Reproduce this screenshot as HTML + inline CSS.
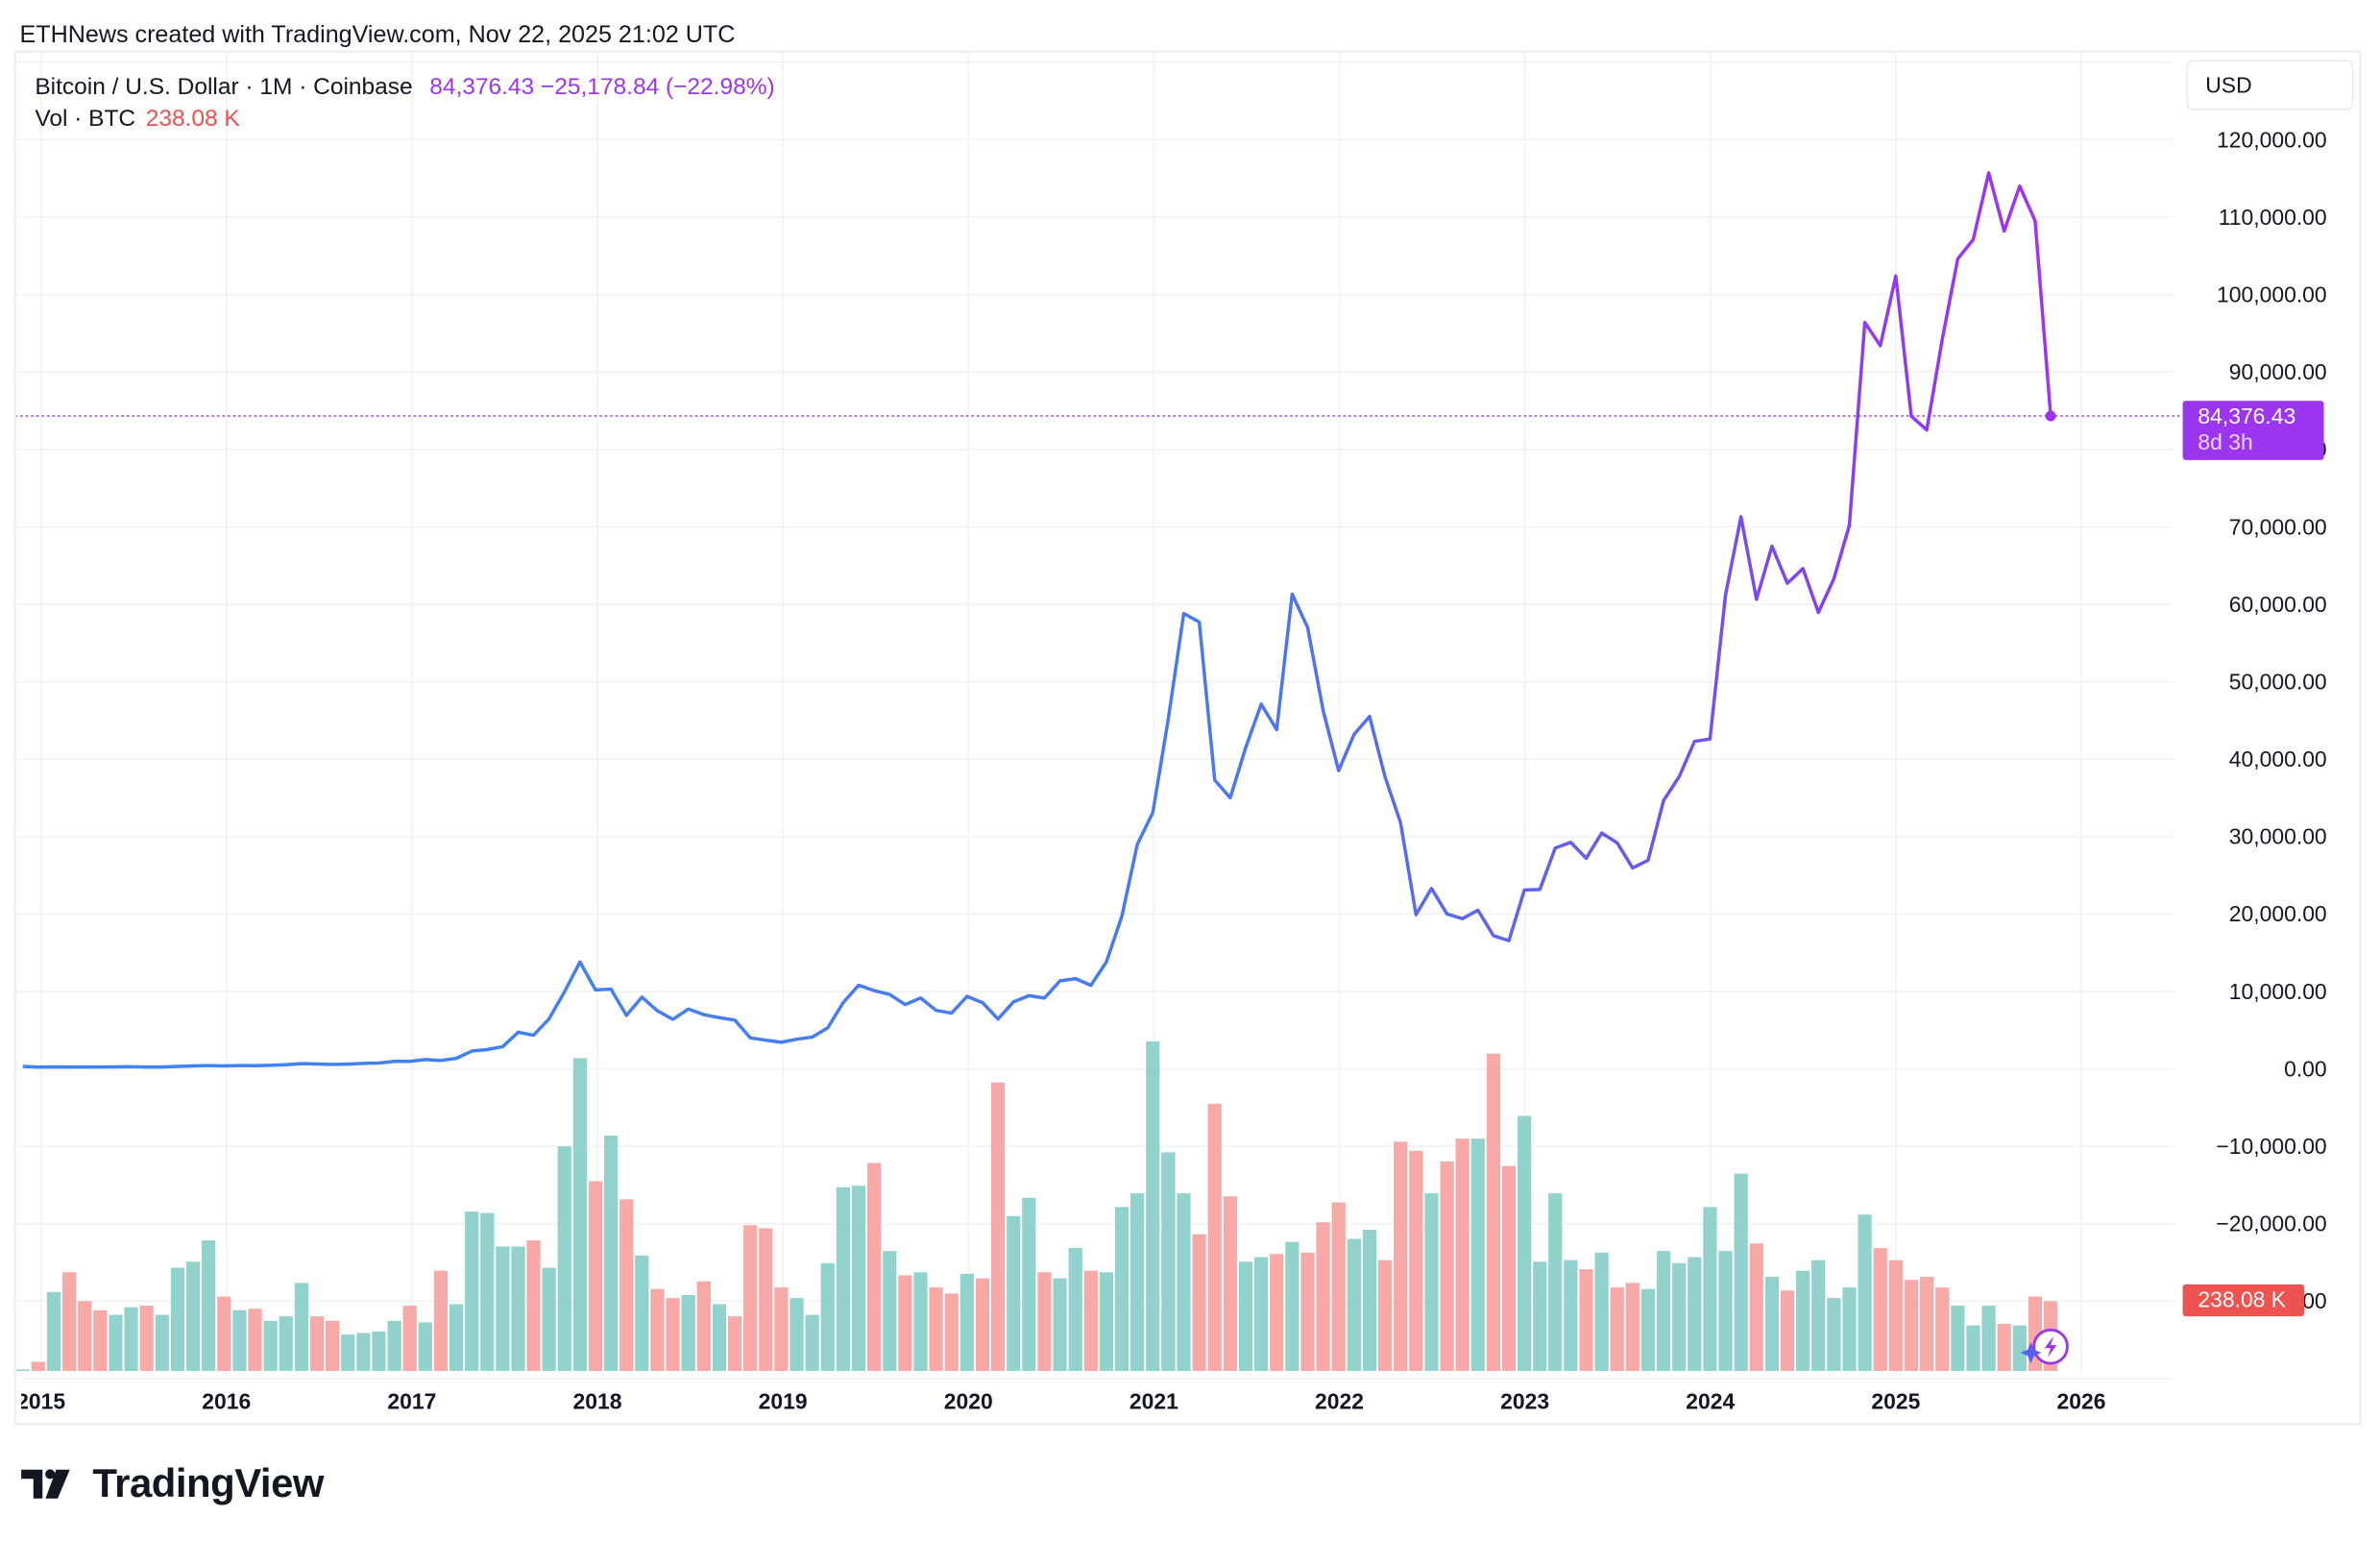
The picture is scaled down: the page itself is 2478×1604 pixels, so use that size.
<!DOCTYPE html>
<html><head><meta charset="utf-8">
<style>
html,body{margin:0;padding:0;background:#fff;}
svg{display:block;}
text{font-family:"Liberation Sans",sans-serif;}
</style></head>
<body>
<svg id="s" width="2478" height="1604" viewBox="0 0 1568 1015" preserveAspectRatio="none" xmlns="http://www.w3.org/2000/svg">
<defs>
<linearGradient id="lg" gradientUnits="userSpaceOnUse" x1="15" y1="0" x2="1351" y2="0">
<stop offset="0" stop-color="#3d85f2"/>
<stop offset="0.6" stop-color="#4a78ef"/>
<stop offset="0.8" stop-color="#6a58ee"/>
<stop offset="0.92" stop-color="#8f3af0"/>
<stop offset="1" stop-color="#a133f2"/>
</linearGradient>
<clipPath id="cp"><rect x="10" y="34" width="1545" height="904"/></clipPath>
</defs>
<rect x="0" y="0" width="1568" height="1015" fill="#fff"/>
<text x="13" y="28" font-size="15.9" fill="#131722">ETHNews created with TradingView.com, Nov 22, 2025 21:02 UTC</text>
<rect x="10" y="34" width="1545" height="904" fill="none" stroke="#eeeff2" stroke-width="1.5"/>
<g id="grid"></g>
<g id="bars" clip-path="url(#cp)"></g>
<line x1="10" y1="274" x2="1438" y2="274" stroke="#9c35f0" stroke-width="1" stroke-dasharray="1.5,2"/>
<polyline id="pl" fill="none" stroke="url(#lg)" stroke-width="2.2" stroke-linejoin="round"/>
<circle cx="1351" cy="274" r="3.5" fill="#9c35f0"/>
<g id="axis"></g>
<rect x="1441" y="40" width="109" height="32" rx="4" fill="#fff" stroke="#e8e9ec"/>
<text x="1453" y="61" font-size="14.5" fill="#131722">USD</text>
<text x="23" y="62" font-size="15.5" fill="#131722">Bitcoin / U.S. Dollar · 1M · Coinbase</text>
<text x="283" y="62" font-size="15.5" fill="#9c35f0">84,376.43  −25,178.84 (−22.98%)</text>
<text x="23" y="83" font-size="15.5" fill="#131722">Vol · BTC</text>
<text x="96" y="83" font-size="15.5" fill="#f0504e">238.08 K</text>
<rect x="1438" y="264" width="93" height="39" rx="2" fill="#9c35f0"/>
<text x="1448" y="279" font-size="14.5" fill="#fff">84,376.43</text>
<text x="1448" y="296" font-size="14.5" fill="#e9d6fc">8d 3h</text>
<rect x="1438" y="846" width="80" height="21" rx="2" fill="#ef5350"/>
<text x="1448" y="861" font-size="14.5" fill="#fff">238.08 K</text>
<circle cx="1351" cy="887" r="11" fill="#fff" stroke="#9c35f0" stroke-width="1.8"/>
<path d="M1353 880 L1347 888 L1351 888 L1349 894 L1355 886 L1351 886 Z" fill="#9c35f0"/>
<path d="M1338 884 L1340 889 L1345 891 L1340 893 L1338 898 L1336 893 L1331 891 L1336 889 Z" fill="#5b5ef0"/>
<g transform="translate(14,965)">
<path d="M0 3 H14 V22 H8 V9 H0 Z" fill="#131722"/>
<circle cx="19" cy="6" r="3.2" fill="#131722"/>
<path d="M23 3 H32 L24 22 H16 Z" fill="#131722"/>
</g>
<text x="61" y="986" font-size="26.5" font-weight="bold" fill="#131722" letter-spacing="-0.3">TradingView</text>
</svg>
<script>
const NS="http://www.w3.org/2000/svg";
function el(t,a,p,txt){const e=document.createElementNS(NS,t);for(const k in a)e.setAttribute(k,a[k]);if(txt!==undefined)e.textContent=txt;document.getElementById(p).appendChild(e);return e;}
for(let v=130000;v>=-40000;v-=10000){const y=704-v*0.0051;if(y<35||y>936)continue;el('line',{x1:10,x2:1432,y1:y,y2:y,stroke:'#f1f2f4','stroke-width':1},'grid');}
const years=[2015,2016,2017,2018,2019,2020,2021,2022,2023,2024,2025,2026];
years.forEach((yr,i)=>{const x=27+i*122.2;el('line',{x1:x,x2:x,y1:34,y2:905,stroke:'#f1f2f4','stroke-width':1},'grid');
 el('text',{x:x,y:928,'font-size':14.5,'font-weight':'bold','text-anchor':'middle',fill:'#131722'},'axis',String(yr));});
el('rect',{x:0,y:905,width:14,height:30,fill:'#fff'},'axis');
el('line',{x1:10,x2:10,y1:34,y2:938,stroke:'#eeeff2','stroke-width':1.5},'axis');
for(let v=120000;v>=-30000;v-=10000){const y=704-v*0.0051;
 const s=(v<0?'−':'')+Math.abs(v).toLocaleString('en-US')+'.00';
 el('text',{x:1533,y:y+5,'font-size':14.5,'text-anchor':'end',fill:'#131722'},'axis',s);}
const P=[320,217,254,244,236,230,263,284,230,236,314,378,430,
368,437,416,448,531,673,624,575,609,700,742,964,
970,1190,1080,1350,2300,2500,2870,4730,4340,6450,9950,13800,
10200,10300,6900,9250,7500,6400,7730,7000,6600,6300,4000,3700,
3430,3820,4100,5300,8550,10800,10100,9600,8300,9150,7550,7200,
9350,8550,6430,8650,9450,9140,11350,11650,10780,13800,19700,29000,
33100,45200,58800,57700,37300,35000,41500,47100,43800,61300,57000,46300,
38500,43200,45500,37700,31800,19900,23300,20000,19400,20500,17200,16550,
23100,23150,28500,29250,27200,30450,29200,25950,26950,34650,37700,42300,
42600,61200,71300,60650,67500,62700,64600,58950,63300,70200,96400,93400,
102400,84300,82500,94200,104600,107100,115700,108200,114000,109500,84376];
const dx=(1351-15)/(P.length-1);
document.getElementById('pl').setAttribute('points',P.map((p,i)=>(15+i*dx).toFixed(1)+','+(704-p*0.0051).toFixed(1)).join(' '));
const V="g902 r897 g851 r838 r857 r863 g866 g861 r860 g866 g835 g831 g817 r854 g863 r862 g870 g867 g845 r867 r870 g879 g878 g877 g870 r860 g871 r837 g859 g798 g799 g821 g821 r817 g835 g755 g697 r778 g748 r790 g827 r849 r855 g853 r844 g859 r867 r807 r809 r848 g855 g866 g832 g782 g781 r766 g824 r840 g838 r848 r852 g839 r842 r713 g801 g789 r838 g842 g822 r837 g838 g795 g786 g686 g759 g786 r813 r727 r788 g831 g828 r826 g818 r825 r805 r792 g816 g810 r830 r752 r758 g786 r765 r750 g750 r694 r768 g735 g831 g786 g830 r836 g825 r848 r845 g849 g824 g832 g828 g795 g824 g773 r819 g841 r850 g837 g830 g855 g848 g800 r822 r830 r843 r841 r848 g860 g873 g860 r872 g873 r854 r857".split(' ');
const bx=(1351-15)/(V.length-1);
V.forEach((s,i)=>{const top=+s.slice(1);const x=15+i*bx-4.5;
 el('rect',{x:x.toFixed(1),y:top,width:9,height:903-top,fill:s[0]=='g'?'#92d2cc':'#f7a9a7'},'bars');});
</script>
</body></html>
